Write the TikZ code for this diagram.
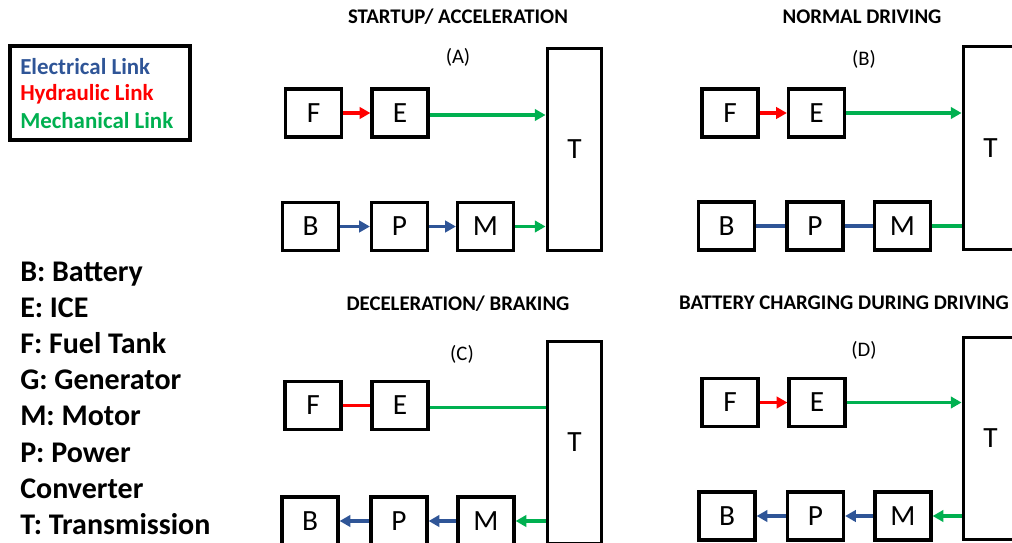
\documentclass[tikz,border=0pt]{standalone}
\usepackage{fontspec}
\setmainfont{Carlito}
\usetikzlibrary{arrows.meta,calc}
\definecolor{elec}{HTML}{2F5597}
\definecolor{hyd}{HTML}{FF0000}
\definecolor{mech}{HTML}{00B050}
\tikzset{
  blk/.style={draw=black,line width=2.4pt,minimum width=42pt,minimum height=36pt,inner sep=0pt,font=\fontsize{22}{24}\selectfont},
  tbox/.style={draw=black,line width=2.4pt,minimum width=41pt,minimum height=152pt,inner sep=0pt,font=\fontsize{22}{24}\selectfont},
  ttl/.style={font=\bfseries\fontsize{15.6}{17}\selectfont,inner sep=0pt},
  lbl/.style={font=\fontsize{15.5}{17}\selectfont,inner sep=0pt},
  lnk/.style={line width=2.6pt},
  arr/.style={lnk,-{Triangle[length=8pt,width=8.5pt]}},
  key/.style={font=\bfseries\fontsize{22.5}{25}\selectfont,anchor=base west,inner sep=0pt},
  leg/.style={font=\bfseries\fontsize{17.2}{19}\selectfont,anchor=west,inner sep=0pt}
}
\begin{document}
\begin{tikzpicture}[x=0.75pt,y=-0.75pt]
\useasboundingbox (0,0) rectangle (1012,542);
\clip (0,0) rectangle (1012,542);
% legend
\node[draw=black,line width=2.4pt,minimum width=135pt,minimum height=70.5pt,inner sep=0pt] (legbox) at (100,93) {};
\node[leg,text=elec] (le) at (20,67) {Electrical Link};
\node[leg,text=hyd] (lh) at (20,94) {Hydraulic Link};
\node[leg,text=mech] (lm) at (20,121) {Mechanical Link};
% key list
\node[key] (k1) at (20,281) {B: Battery};
\node[key] (k2) at (20,317.2) {E: ICE};
\node[key] (k3) at (20,353.4) {F: Fuel Tank};
\node[key] (k4) at (20,389.6) {G: Generator};
\node[key] (k5) at (20,425.8) {M: Motor};
\node[key] (k6) at (20,462) {P: Power};
\node[key] (k7) at (20,498.2) {Converter};
\node[key] (k8) at (20,534.4) {T: Transmission};
% ---------- Panel A ----------
\node[ttl] (ta) at (458,17) {STARTUP/ ACCELERATION};
\node[lbl] (la) at (458,57) {(A)};
\node[blk] (aF) at (313.5,113) {F};
\node[blk] (aE) at (400,113) {E};
\node[blk] (aB) at (310.5,226.5) {B};
\node[blk] (aP) at (399.5,226.5) {P};
\node[blk] (aM) at (485.5,226.5) {M};
\node[tbox] (aT) at (574.5,149.5) {T};
\coordinate (aEo) at ($(aE.east)+(0,2)$);
\draw[arr,hyd] (aF.east) -- (aE.west);
\draw[arr,mech] (aEo) -- (aEo -| aT.west);
\draw[arr,elec] (aB.east) -- (aP.west);
\draw[arr,elec] (aP.east) -- (aM.west);
\draw[arr,mech] (aM.east) -- (aM.east -| aT.west);
% ---------- Panel B ----------
\node[ttl] (tb) at (862,17) {NORMAL DRIVING};
\node[lbl] (lb) at (864,59) {(B)};
\node[blk] (bF) at (730,113) {F};
\node[blk] (bE) at (816.5,113) {E};
\node[blk] (bB) at (726.5,226) {B};
\node[blk] (bP) at (815,226) {P};
\node[blk] (bM) at (902.5,226) {M};
\node[tbox] (bT) at (990.5,148) {T};
\draw[arr,hyd] (bF.east) -- (bE.west);
\draw[arr,mech] (bE.east) -- (bE.east -| bT.west);
\draw[lnk,elec] (bB.east) -- (bP.west);
\draw[lnk,elec] (bP.east) -- (bM.west);
\draw[lnk,mech] (bM.east) -- (bM.east -| bT.west);
% ---------- Panel C ----------
\node[ttl] (tc) at (458,304) {DECELERATION/ BRAKING};
\node[lbl] (lc) at (462,354) {(C)};
\node[blk] (cF) at (313,405.5) {F};
\node[blk] (cE) at (400,405.5) {E};
\node[blk] (cB) at (310,521) {B};
\node[blk] (cP) at (399,521) {P};
\node[blk] (cM) at (486,521) {M};
\node[tbox] (cT) at (574.5,442.5) {T};
\coordinate (cEo) at ($(cE.east)+(0,2)$);
\draw[lnk,hyd] (cF.east) -- (cE.west);
\draw[lnk,mech] (cEo) -- (cEo -| cT.west);
\draw[arr,mech] (cM.east -| cT.west) -- (cM.east);
\draw[arr,elec] (cM.west) -- (cP.east);
\draw[arr,elec] (cP.west) -- (cB.east);
% ---------- Panel D ----------
\node[ttl] (td) at (844,303) {BATTERY CHARGING DURING DRIVING};
\node[lbl] (ld) at (864,350) {(D)};
\node[blk] (dF) at (730,402.5) {F};
\node[blk] (dE) at (817,402.5) {E};
\node[blk] (dB) at (727,516) {B};
\node[blk] (dP) at (815.5,516) {P};
\node[blk] (dM) at (903,516) {M};
\node[tbox] (dT) at (990.5,438.5) {T};
\draw[arr,hyd] (dF.east) -- (dE.west);
\draw[arr,mech] (dE.east) -- (dE.east -| dT.west);
\draw[arr,mech] (dM.east -| dT.west) -- (dM.east);
\draw[arr,elec] (dM.west) -- (dP.east);
\draw[arr,elec] (dP.west) -- (dB.east);
\end{tikzpicture}
\end{document}
